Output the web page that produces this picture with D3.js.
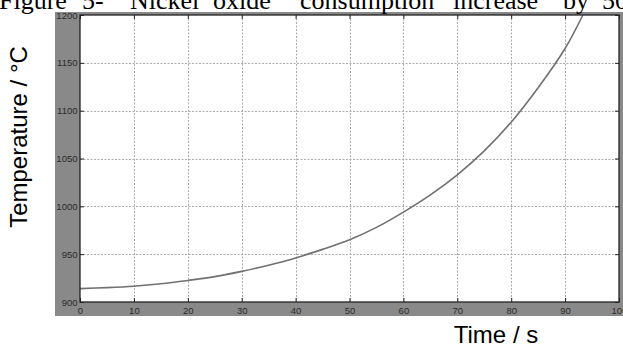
<!DOCTYPE html>
<html>
<head>
<meta charset="utf-8">
<script src="https://cdn.jsdelivr.net/npm/d3@7"></script>
<style>
  html, body { margin: 0; padding: 0; background: #fff; }
  svg { display: block; }
</style>
</head>
<body>
<svg id="chart" width="623" height="347"></svg>
<script>
// Temperature profile over time
const timeS = [0, 5, 10, 15, 20, 25, 30, 35, 40, 45, 50, 55, 60, 65, 70, 75, 80, 85, 90, 93.3];
const tempC = [914, 915, 916.5, 919, 922.5, 926.5, 932, 938.5, 946, 955, 965, 978, 994, 1012, 1033, 1058, 1088, 1124, 1165, 1200];

const xTicks = [0, 10, 20, 30, 40, 50, 60, 70, 80, 90, 100];
const yTicks = [900, 950, 1000, 1050, 1100, 1150, 1200];

const captionWords = ["Figure", "5-", "Nickel", "oxide", "consumption", "increase", "by", "50"];
const captionX = [-1, 82, 130, 213, 300, 453, 563, 602];

const xLabel = "Time / s";
const yLabel = "Temperature / °C";

const svg = d3.select("#chart");
const W = 623, H = 347;
const plot = { left: 80, right: 619, top: 15, bottom: 302 };

const x = d3.scaleLinear().domain([0, 100]).range([plot.left, plot.right]);
const y = d3.scaleLinear().domain([900, 1200]).range([plot.bottom, plot.top]);

svg.append("rect").attr("width", W).attr("height", H).attr("fill", "#fff");

// grey figure panel behind the axes
svg.append("rect")
  .attr("x", 55).attr("y", 12)
  .attr("width", W - 55).attr("height", 316 - 12)
  .attr("fill", "#898989");

// white plotting area
svg.append("rect")
  .attr("x", plot.left).attr("y", plot.top)
  .attr("width", plot.right - plot.left).attr("height", plot.bottom - plot.top)
  .attr("fill", "#fff");

// dotted grid
const grid = svg.append("g").attr("stroke", "#ababab").attr("stroke-width", 1).attr("stroke-dasharray", "2,1.5");
grid.selectAll("line.v").data(xTicks.slice(1, -1)).join("line")
  .attr("x1", d => Math.round(x(d)) + 0.5).attr("x2", d => Math.round(x(d)) + 0.5)
  .attr("y1", plot.top).attr("y2", plot.bottom);
grid.selectAll("line.h").data(yTicks.slice(1, -1)).join("line")
  .attr("y1", d => Math.round(y(d)) + 0.5).attr("y2", d => Math.round(y(d)) + 0.5)
  .attr("x1", plot.left).attr("x2", plot.right);

// curve
const pts = timeS.map((t, i) => [t, tempC[i]]);
svg.append("path")
  .datum(pts)
  .attr("fill", "none")
  .attr("stroke", "#707070")
  .attr("stroke-width", 1.6)
  .attr("d", d3.line().x(d => x(d[0])).y(d => y(d[1])).curve(d3.curveCatmullRom.alpha(0.5)));

// axes with inward ticks on all four sides
const tickFont = "Liberation Sans Narrow, Arial Narrow, Liberation Sans, sans-serif";
function styleAxis(g) {
  g.select(".domain").remove();
  g.selectAll(".tick line").attr("stroke", "#222");
  g.selectAll("text").attr("fill", "#2a2a2a").attr("font-size", 9.5).attr("font-family", tickFont);
}
svg.append("g").attr("transform", `translate(0,${plot.bottom})`)
  .call(d3.axisBottom(x).tickValues(xTicks).tickFormat(d3.format("d")).tickSize(-4).tickPadding(5))
  .call(styleAxis);
svg.append("g").attr("transform", `translate(${plot.left},0)`)
  .call(d3.axisLeft(y).tickValues(yTicks).tickFormat(d3.format("d")).tickSize(-4).tickPadding(2.5))
  .call(styleAxis);
svg.append("g").attr("transform", `translate(0,${plot.top})`)
  .call(d3.axisTop(x).tickValues(xTicks).tickFormat("").tickSize(-4))
  .call(styleAxis);
svg.append("g").attr("transform", `translate(${plot.right},0)`)
  .call(d3.axisRight(y).tickValues(yTicks).tickFormat("").tickSize(-4))
  .call(styleAxis);

// plot frame
svg.append("rect")
  .attr("x", plot.left).attr("y", plot.top)
  .attr("width", plot.right - plot.left).attr("height", plot.bottom - plot.top)
  .attr("fill", "none").attr("stroke", "#222").attr("stroke-width", 1.3);

// axis titles
svg.append("text")
  .attr("x", 496).attr("y", 343)
  .attr("text-anchor", "middle")
  .attr("font-family", "Liberation Sans, Arial, sans-serif")
  .attr("font-size", 24).attr("fill", "#000")
  .text(xLabel);
svg.append("text")
  .attr("transform", "translate(27,137) rotate(-90)")
  .attr("text-anchor", "middle")
  .attr("font-family", "Liberation Sans, Arial, sans-serif")
  .attr("font-size", 24).attr("fill", "#000")
  .text(yLabel);

// caption line running across the top
svg.append("g").selectAll("text").data(captionWords).join("text")
  .attr("x", (d, i) => captionX[i]).attr("y", 9)
  .attr("font-family", "Liberation Serif, Times New Roman, serif")
  .attr("font-size", 26).attr("fill", "#000")
  .text(d => d);
</script>
</body>
</html>
